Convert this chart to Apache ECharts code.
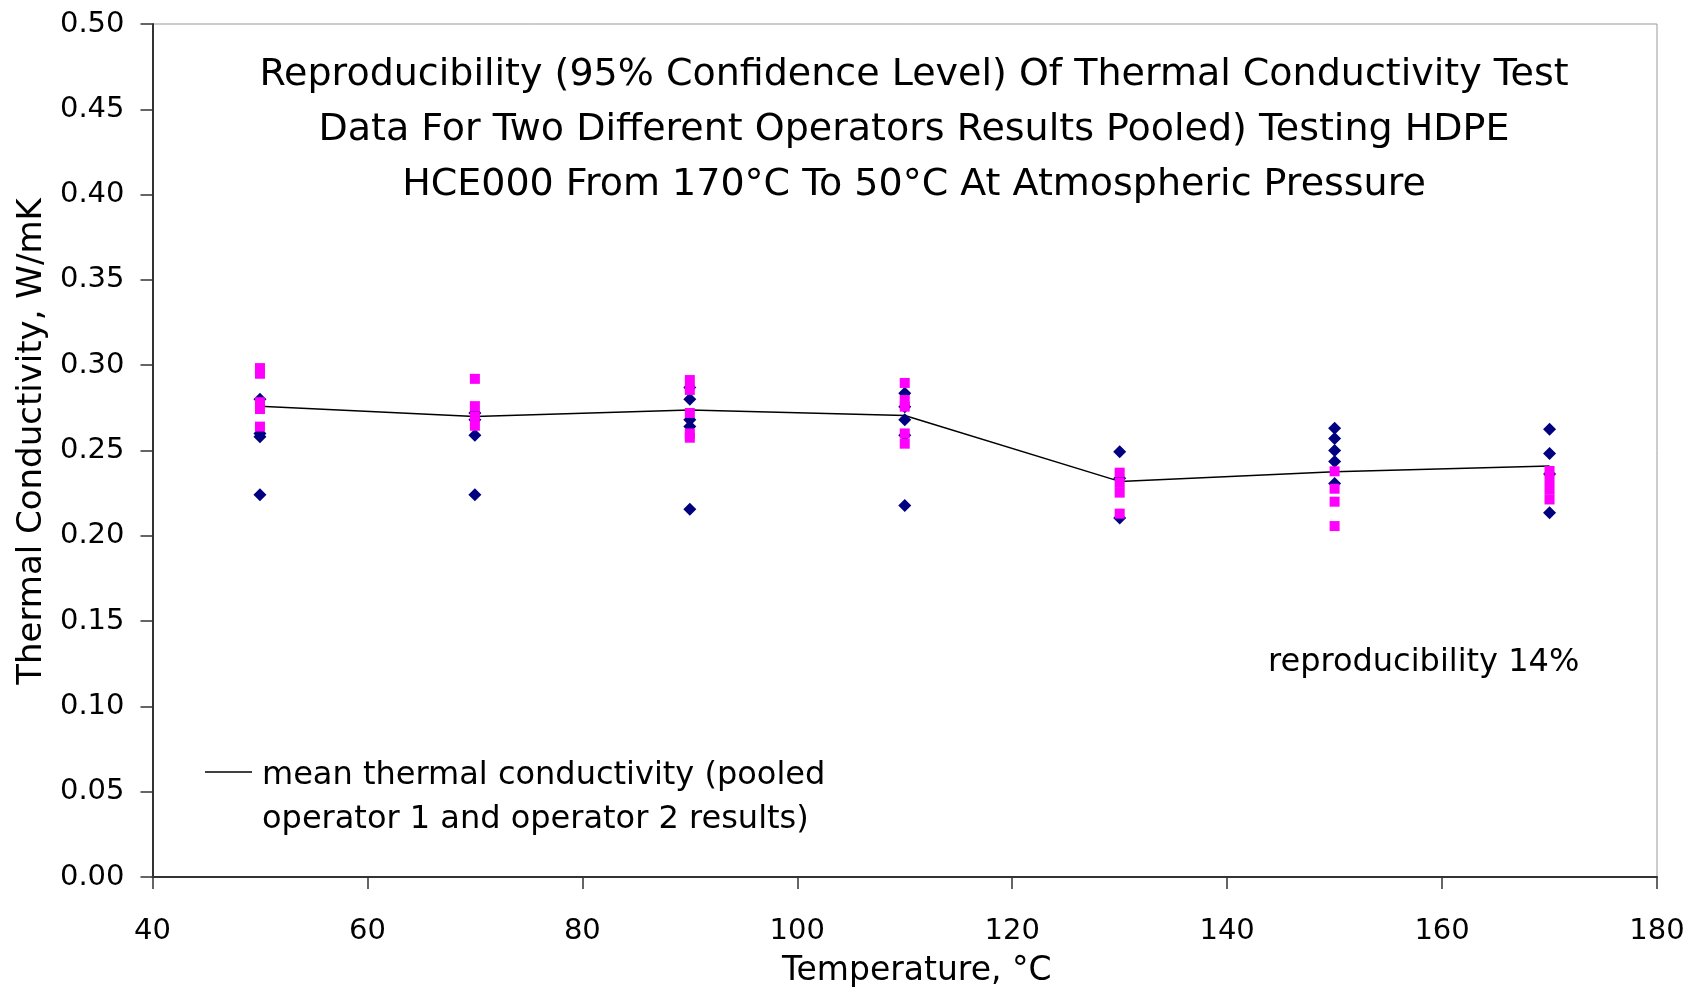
<!DOCTYPE html>
<html>
<head>
<meta charset="utf-8">
<script src="https://cdn.jsdelivr.net/npm/echarts@6/dist/echarts.min.js"></script>
<style>html,body{margin:0;padding:0;background:#fff}#c{width:1696px;height:988px}</style>
</head>
<body>
<div id="c"></div>
<script>
// Temperatures (°C)
const temps = [50, 70, 90, 110, 130, 150, 170];
// Operator 1 results (blue diamonds), one list per temperature
const op1 = [
  [0.280, 0.260, 0.258, 0.224],
  [0.272, 0.268, 0.259, 0.224],
  [0.287, 0.280, 0.268, 0.264, 0.2155],
  [0.2835, 0.2757, 0.268, 0.259, 0.2177],
  [0.2493, 0.2337, 0.2105],
  [0.263, 0.257, 0.250, 0.2435, 0.2307],
  [0.2624, 0.2483, 0.2362, 0.2135]
];
// Operator 2 results (magenta squares)
const op2 = [
  [0.2983, 0.2950, 0.2783, 0.2743, 0.264],
  [0.292, 0.276, 0.270, 0.2645],
  [0.2913, 0.2855, 0.272, 0.260, 0.2575],
  [0.2896, 0.2796, 0.2757, 0.260, 0.254],
  [0.237, 0.231, 0.2253, 0.213],
  [0.2378, 0.2276, 0.220, 0.2057],
  [0.238, 0.2327, 0.227, 0.2213]
];
// Mean thermal conductivity (pooled)
const meanK = [0.276, 0.270, 0.2737, 0.2705, 0.2319, 0.2376, 0.2409];

const xTicks = [40, 60, 80, 100, 120, 140, 160, 180];
const titleLines = [
  'Reproducibility (95% Confidence Level) Of Thermal Conductivity Test',
  'Data For Two Different Operators Results Pooled) Testing HDPE',
  'HCE000 From 170°C To 50°C At Atmospheric Pressure'
];
const annotation = 'reproducibility 14%';
const legendLines = ['mean thermal conductivity (pooled', 'operator 1 and operator 2 results)'];

function pairs(groups) {
  const out = [];
  groups.forEach((g, i) => g.forEach(v => out.push([temps[i], v])));
  return out;
}

const FONT = 'DejaVu Sans';
const chart = echarts.init(document.getElementById('c'), null, {renderer: 'canvas'});
chart.setOption({
  animation: false,
  backgroundColor: '#ffffff',
  textStyle: {fontFamily: FONT, color: '#000'},
  title: {
    text: titleLines.join('\n'),
    left: 914, top: 48, textAlign: 'center', padding: 0,
    textStyle: {fontFamily: FONT, fontSize: 38, fontWeight: 'normal', color: '#000', lineHeight: 55}
  },
  grid: {left: 152.5, right: 39, top: 24, bottom: 111, show: true, borderColor: '#999', borderWidth: 1,
    containLabel: false, outerBoundsMode: 'none'},
  xAxis: {
    type: 'value', min: 40, max: 180, interval: 20,
    name: 'Temperature, °C', nameLocation: 'middle', nameGap: 78,
    nameTextStyle: {fontFamily: FONT, fontSize: 33, color: '#000', padding: [0, 0, 0, 24]},
    axisLine: {show: true, lineStyle: {color: '#333', width: 2}},
    axisTick: {show: true, inside: false, length: 12, lineStyle: {color: '#333', width: 1.5}},
    axisLabel: {fontFamily: FONT, fontSize: 29, color: '#000', margin: 40,
      customValues: xTicks},
    splitLine: {show: false}
  },
  yAxis: {
    type: 'value', min: 0, max: 0.5, interval: 0.05,
    name: 'Thermal Conductivity, W/mK', nameLocation: 'middle', nameGap: 96,
    nameTextStyle: {fontFamily: FONT, fontSize: 34, color: '#000', padding: [0, 0, 0, 18]},
    axisLine: {show: true, lineStyle: {color: '#333', width: 2}},
    axisTick: {show: true, inside: false, length: 12, lineStyle: {color: '#333', width: 1.5}},
    axisLabel: {fontFamily: FONT, fontSize: 29, color: '#000', margin: 28,
      formatter: v => v.toFixed(2)},
    splitLine: {show: false}
  },
  series: [
    {
      name: 'mean', type: 'line', z: 1,
      data: temps.map((t, i) => [t, meanK[i]]),
      showSymbol: false, symbol: 'none',
      lineStyle: {color: '#000', width: 1.5}
    },
    {
      name: 'operator 1', type: 'scatter', z: 2,
      data: pairs(op1), symbol: 'diamond', symbolSize: 13,
      itemStyle: {color: '#000080', opacity: 1}
    },
    {
      name: 'operator 2', type: 'scatter', z: 3,
      data: pairs(op2), symbol: 'rect', symbolSize: 10,
      itemStyle: {color: '#ff00ff', opacity: 1}
    }
  ],
  graphic: [
    {type: 'text', left: 1268, top: 647,
      style: {text: annotation, fontFamily: FONT, fontSize: 32, fill: '#000'}},
    {type: 'line', shape: {x1: 205, y1: 772, x2: 252, y2: 772}, style: {stroke: '#000', lineWidth: 1.5}},
    {type: 'text', left: 262, top: 754,
      style: {text: legendLines.join('\n'), fontFamily: FONT, fontSize: 32, lineHeight: 44, fill: '#000'}}
  ]
});
</script>
</body>
</html>
